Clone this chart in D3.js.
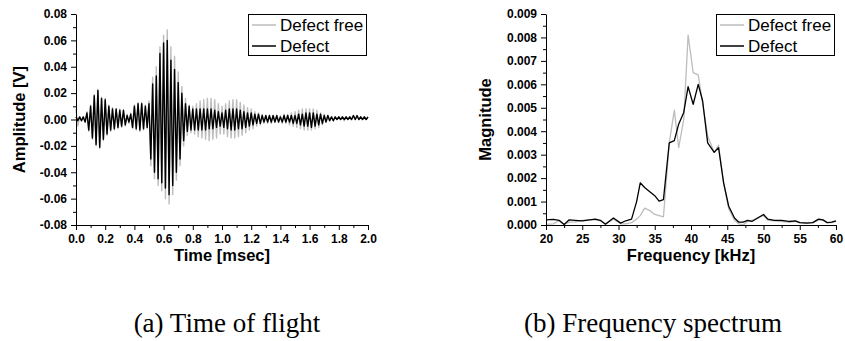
<!DOCTYPE html>
<html>
<head>
<meta charset="utf-8">
<script src="https://cdn.jsdelivr.net/npm/d3@7"></script>
<style>
  html, body { margin: 0; padding: 0; background: #fff; }
  svg { display: block; }
</style>
</head>
<body>
<div class="chart-container"></div>
<script>
// ---- data ----
// time of flight: signal extrema, one every sampleStep ms from t = 0
const sampleStep = 0.0125;
const defectFree = [
  0.008, -0.005, 0.002, -0.001, 0.002, -0.002, 0.006, -0.009, 0.011, -0.015,
  0.019, -0.020, 0.023, -0.022, 0.017, -0.016, 0.016, -0.012, 0.011, -0.009,
  0.009, -0.008, 0.008, -0.007, 0.008, -0.006, 0.007, -0.005, 0.004, -0.003,
  0.005, -0.007, 0.011, -0.008, 0.013, -0.009, 0.013, -0.008, 0.011, -0.007,
  0.014, -0.035, 0.032, -0.045, 0.040, -0.050, 0.055, -0.054, 0.064, -0.060,
  0.068, -0.064, 0.055, -0.057, 0.048, -0.046, 0.036, -0.035, 0.025, -0.020,
  0.016, -0.012, 0.011, -0.010, 0.010, -0.011, 0.012, -0.013, 0.014, -0.014,
  0.015, -0.015, 0.016, -0.016, 0.016, -0.015, 0.015, -0.014, 0.012, -0.011,
  0.010, -0.011, 0.012, -0.013, 0.014, -0.014, 0.015, -0.014, 0.015, -0.013,
  0.013, -0.012, 0.011, -0.010, 0.009, -0.008, 0.008, -0.007, 0.006, -0.005,
  0.005, -0.004, 0.004, -0.003, 0.003, -0.003, 0.003, -0.003, 0.003, -0.002,
  0.003, -0.002, 0.003, -0.003, 0.004, -0.003, 0.004, -0.004, 0.005, -0.005,
  0.006, -0.006, 0.007, -0.007, 0.008, -0.008, 0.008, -0.008, 0.008, -0.008,
  0.008, -0.007, 0.007, -0.006, 0.005, -0.004, 0.004, -0.002, 0.003, -0.001,
  0.002, -0.001, 0.002, 0.000, 0.002, 0.000, 0.002, -0.001, 0.002, 0.000,
  0.002, 0.000, 0.003, 0.000, 0.002, 0.000, 0.002, 0.000, 0.002, 0.000,
  0.002
];
const defect = [
  0.002, -0.001, 0.002, -0.001, 0.002, -0.002, 0.005, -0.008, 0.010, -0.014,
  0.018, -0.019, 0.022, -0.021, 0.016, -0.015, 0.015, -0.011, 0.010, -0.008,
  0.008, -0.007, 0.008, -0.006, 0.007, -0.005, 0.007, -0.004, 0.003, -0.002,
  0.004, -0.006, 0.010, -0.007, 0.012, -0.008, 0.012, -0.007, 0.010, -0.006,
  0.012, -0.030, 0.027, -0.040, 0.033, -0.045, 0.050, -0.048, 0.058, -0.052,
  0.060, -0.057, 0.045, -0.050, 0.038, -0.040, 0.028, -0.030, 0.020, -0.016,
  0.012, -0.009, 0.010, -0.008, 0.008, -0.008, 0.008, -0.008, 0.008, -0.008,
  0.008, -0.008, 0.008, -0.007, 0.008, -0.007, 0.007, -0.006, 0.006, -0.005,
  0.005, -0.006, 0.007, -0.007, 0.008, -0.008, 0.008, -0.008, 0.008, -0.007,
  0.007, -0.007, 0.006, -0.006, 0.005, -0.005, 0.005, -0.004, 0.004, -0.003,
  0.004, -0.003, 0.003, -0.002, 0.003, -0.002, 0.003, -0.002, 0.003, -0.002,
  0.003, -0.002, 0.002, -0.002, 0.003, -0.002, 0.003, -0.002, 0.003, -0.003,
  0.003, -0.003, 0.004, -0.004, 0.004, -0.005, 0.005, -0.005, 0.005, -0.006,
  0.005, -0.005, 0.004, -0.004, 0.004, -0.003, 0.003, -0.002, 0.003, -0.001,
  0.002, -0.001, 0.002, 0.000, 0.002, 0.000, 0.002, 0.000, 0.002, 0.000,
  0.002, 0.000, 0.003, 0.000, 0.003, 0.000, 0.002, 0.000, 0.002, 0.000,
  0.002
];
const timeTicks = [0, 0.2, 0.4, 0.6, 0.8, 1.0, 1.2, 1.4, 1.6, 1.8, 2.0];
const ampTicks = [-0.08, -0.06, -0.04, -0.02, 0, 0.02, 0.04, 0.06, 0.08];

// frequency spectrum
const freqKHz = [
  20, 21, 21.8, 22.5, 23.2, 24, 25, 26, 26.8, 27.5, 28.2, 29.3, 30.3, 31, 31.8,
  32.5, 33, 33.6, 34.4, 35, 35.6, 36.2, 37, 37.7, 38.3, 39, 39.6, 40.3, 41, 41.6,
  42.3, 43.2, 43.8, 44.5, 45.2, 46, 46.6, 47.2, 47.8, 48.4, 49.2, 50, 50.6, 51.5,
  52.5, 53.5, 54.4, 55, 56, 56.8, 57.6, 58.2, 58.8, 59.4, 60
];
const magDefectFree = [
  0.00003, 0.00005, 0.00018, 0.00002, 0.00012, 0.00013, 0.0002, 0.00022, 0.00022, 0.00018,
  0.00005, 0.00025, 0.00005, 0.00005, 0.0001, 0.00025, 0.0004, 0.00072, 0.0006, 0.00045,
  0.0004, 0.00035, 0.0035, 0.0049, 0.0033, 0.0045, 0.0081, 0.0065, 0.0064, 0.0052,
  0.0038, 0.0031, 0.0034, 0.0018, 0.0007, 0.0002, 0.00005, 0.0, 0.00015, 0.0002,
  0.0003, 0.0004, 0.0002, 0.00018, 0.00015, 0.00012, 0.00015, 0.0001, 0.0001, 0.0001,
  0.00022, 0.0002, 0.0001, 0.0001, 0.00015
];
const magDefect = [
  0.00022, 0.00024, 0.0002, 0.00002, 0.00022, 0.0002, 0.00018, 0.00022, 0.00025, 0.0002,
  0.00003, 0.0003, 0.00008, 0.00018, 0.00025, 0.001, 0.0018, 0.0016, 0.0014, 0.00125,
  0.00102, 0.00108, 0.0035, 0.0036, 0.0043, 0.0048, 0.0059, 0.00515, 0.006, 0.0053,
  0.0035, 0.0031, 0.0033, 0.0018, 0.0008, 0.0003, 0.00012, 0.00012, 0.0002, 0.00015,
  0.0003, 0.00045, 0.00025, 0.0002, 0.0002, 0.00015, 0.00018, 0.0001, 0.00008, 0.0001,
  0.00025, 0.00022, 0.0001, 0.00012, 0.00018
];
const freqTicks = [20, 25, 30, 35, 40, 45, 50, 55, 60];
const magTicks = [0, 0.001, 0.002, 0.003, 0.004, 0.005, 0.006, 0.007, 0.008, 0.009];

const seriesNames = ['Defect free', 'Defect'];
const seriesColors = ['#bdbdbd', '#000000'];
const captions = ['(a) Time of flight', '(b) Frequency spectrum'];

// ---- drawing ----
const width = 845;
const height = 341;
const sansFont = '"Liberation Sans", Arial, sans-serif';
const serifFont = '"Liberation Serif", "Times New Roman", serif';

const svg = d3.select('.chart-container')
  .append('svg')
  .attr('width', width)
  .attr('height', height);

function midpoints(ticks) {
  return d3.pairs(ticks).map(([a, b]) => (a + b) / 2);
}

function drawPanel(opt) {
  const x = d3.scaleLinear().domain(opt.xDomain).range([opt.left, opt.right]);
  const y = d3.scaleLinear().domain(opt.yDomain).range([opt.bottom, opt.top]);

  const g = svg.append('g');

  // curves: gray under black
  opt.series.forEach((s, i) => {
    const line = d3.line()
      .x(d => x(d[0]))
      .y(d => y(d[1]));
    g.append('path')
      .datum(s)
      .attr('fill', 'none')
      .attr('stroke', seriesColors[i])
      .attr('stroke-width', opt.strokeWidth)
      .attr('stroke-linejoin', 'round')
      .attr('d', line);
  });

  // minor ticks
  g.append('g')
    .attr('transform', `translate(0,${opt.bottom})`)
    .call(d3.axisBottom(x).tickValues(midpoints(opt.xTicks)).tickSize(3).tickFormat(''))
    .call(a => a.select('.domain').remove());
  g.append('g')
    .attr('transform', `translate(${opt.left},0)`)
    .call(d3.axisLeft(y).tickValues(midpoints(opt.yTicks)).tickSize(3).tickFormat(''))
    .call(a => a.select('.domain').remove());

  // major ticks
  const xAxis = g.append('g')
    .attr('transform', `translate(0,${opt.bottom})`)
    .call(d3.axisBottom(x).tickValues(opt.xTicks).tickSize(5).tickSizeOuter(0)
      .tickPadding(4).tickFormat(opt.xFormat));
  const yAxis = g.append('g')
    .attr('transform', `translate(${opt.left},0)`)
    .call(d3.axisLeft(y).tickValues(opt.yTicks).tickSize(5).tickSizeOuter(0)
      .tickPadding(4).tickFormat(opt.yFormat));

  [xAxis, yAxis].forEach(a => {
    a.selectAll('text')
      .attr('font-family', sansFont)
      .attr('font-size', 12)
      .attr('font-weight', 'bold')
      .attr('fill', '#000');
    a.selectAll('line, path').attr('stroke', '#000').attr('stroke-width', 1);
  });
  g.selectAll('.tick line').attr('stroke', '#000');

  // axis titles
  g.append('text')
    .attr('x', (opt.left + opt.right) / 2)
    .attr('y', opt.bottom + 36)
    .attr('text-anchor', 'middle')
    .attr('font-family', sansFont)
    .attr('font-size', 16.5)
    .attr('font-weight', 'bold')
    .text(opt.xTitle);
  g.append('text')
    .attr('transform', `translate(${opt.yTitleX},${(opt.top + opt.bottom) / 2}) rotate(-90)`)
    .attr('text-anchor', 'middle')
    .attr('font-family', sansFont)
    .attr('font-size', 16.5)
    .attr('font-weight', 'bold')
    .text(opt.yTitle);

  // legend
  const lx = opt.right - 120;
  const ly = opt.top;
  const legend = g.append('g');
  legend.append('rect')
    .attr('x', lx + 0.5)
    .attr('y', ly + 0.5)
    .attr('width', 118)
    .attr('height', 41)
    .attr('fill', '#fff')
    .attr('stroke', '#000')
    .attr('stroke-width', 1);
  seriesNames.forEach((name, i) => {
    const cy = ly + 11 + i * 21;
    legend.append('line')
      .attr('x1', lx + 4)
      .attr('x2', lx + 28)
      .attr('y1', cy)
      .attr('y2', cy)
      .attr('stroke', seriesColors[i])
      .attr('stroke-width', 1.5);
    legend.append('text')
      .attr('x', lx + 32)
      .attr('y', cy + 6)
      .attr('font-family', sansFont)
      .attr('font-size', 17)
      .text(name);
  });

  // caption
  svg.append('text')
    .attr('x', opt.captionX)
    .attr('y', 332)
    .attr('text-anchor', 'middle')
    .attr('font-family', serifFont)
    .attr('font-size', 27)
    .text(opt.caption);
}

const timeSeries = [defectFree, defect].map(vals =>
  vals.map((v, k) => [k * sampleStep, v]));
const freqSeries = [magDefectFree, magDefect].map(vals =>
  vals.map((v, k) => [freqKHz[k], v]));

drawPanel({
  left: 76, right: 368, top: 14, bottom: 225,
  xDomain: [0, 2], yDomain: [-0.08, 0.08],
  xTicks: timeTicks, yTicks: ampTicks,
  xFormat: d => d.toFixed(1), yFormat: d => d.toFixed(2),
  xTitle: 'Time [msec]', yTitle: 'Amplitude [V]', yTitleX: 25,
  series: timeSeries, strokeWidth: 1.4,
  caption: captions[0], captionX: 227
});

drawPanel({
  left: 546, right: 836, top: 14, bottom: 225,
  xDomain: [20, 60], yDomain: [0, 0.009],
  xTicks: freqTicks, yTicks: magTicks,
  xFormat: d => String(d), yFormat: d => d.toFixed(3),
  xTitle: 'Frequency [kHz]', yTitle: 'Magnitude', yTitleX: 491,
  series: freqSeries, strokeWidth: 1.3,
  caption: captions[1], captionX: 653
});
</script>
</body>
</html>
